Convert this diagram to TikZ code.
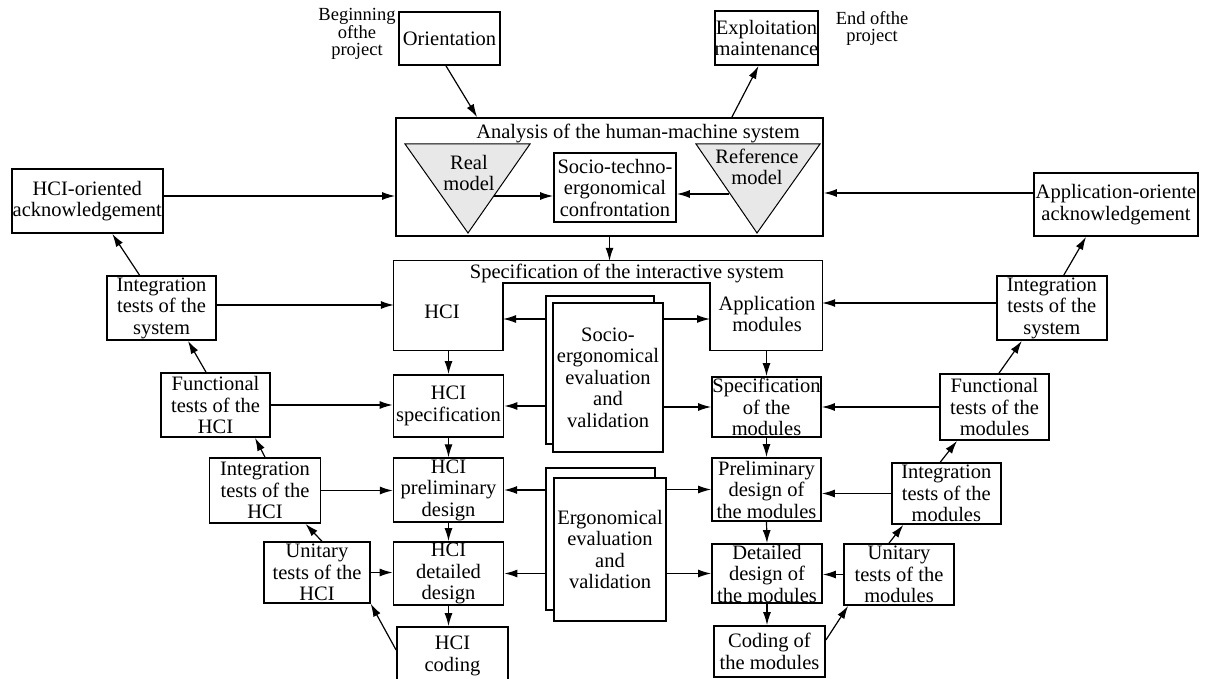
\documentclass[tikz,border=0pt]{standalone}
\usepackage{fontspec}
\setmainfont{Liberation Serif}
\usetikzlibrary{arrows.meta}

\begin{document}
\begin{tikzpicture}[x=1pt, y=-1pt,
		font=\fontsize{20.5}{21.5}\selectfont,
		stagebox/.style={draw, line width=1.8pt, align=center, inner sep=0pt},
		thinbox/.style={stagebox, line width=1.3pt},
		sheet/.style={stagebox, fill=white},
		txt/.style={align=center, inner sep=0pt},
		note/.style={txt, font=\fontsize{18.5}{17}\selectfont},
		arr/.style={line width=1.2pt, -{Latex[length=13pt,width=8pt]}}]
		%%%%% START %%%%%
		\clip (0,0) rectangle (1210,679);
		
		% top of the cycle
		\node[note] (begintxt) at (357,34) {Beginning\\ofthe\\project};
		\node[stagebox, minimum width=101pt, minimum height=53pt] (orient) at (449.5,38.5) {Orientation};
		\node[stagebox, minimum width=101pt, minimum height=54pt] (exploit) at (766.5,38) {Exploitation\\maintenance};
		\node[note] (endtxt) at (872,28) {End ofthe\\project};
		
		\node[stagebox, minimum width=427pt, minimum height=118pt] (analysis) at (609.5,177) {};
		\node[txt] (analysistitle) at (638,133) {Analysis of the human-machine system};
		\draw[fill=black!9, line width=1pt] (405,144) -- (530,144) -- (468,233) -- cycle;
		\draw[fill=black!9, line width=1pt] (696,144) -- (820,144) -- (757,233) -- cycle;
		\node[txt] (realtxt) at (469,173) {Real\\model};
		\node[txt] (reftxt) at (757,167) {Reference\\model};
		\node[stagebox, minimum width=122pt, minimum height=69pt] (confront) at (615,187.5) {Socio-techno-\\ergonomical\\confrontation};
		\coordinate (realout) at (494,196);
		\coordinate (refout) at (729,194);
		
		\node[stagebox, minimum width=151pt, minimum height=64pt] (hciack) at (87.3,201) {HCI-oriented\\acknowledgement};
		\node[stagebox, minimum width=164pt, minimum height=63pt] (appack) at (1116,204.5) {Application-oriente\\acknowledgement};
		
		% specification of the interactive system
		\node[inner sep=0pt, minimum width=428pt, minimum height=89pt] (specsys) at (608,305.5) {};
		\coordinate (notchL) at (503,283);
		\coordinate (notchR) at (710,283);
		\coordinate (hciin) at (503,319);
		\coordinate (appin) at (710,319);
		\draw[line width=1.2pt] (specsys.north west) -- (specsys.north east) -- (specsys.south east) -- (notchR |- specsys.south) -- (notchR) -- (notchL) -- (notchL |- specsys.south) -- (specsys.south west) -- cycle;
		\node[txt] (specsystitle) at (627,273) {Specification of the interactive system};
		\node[txt] (hcitxt) at (442,312) {HCI};
		\node[txt] (apptxt) at (767,314) {Application\\modules};
		
		\node[stagebox, minimum width=108pt, minimum height=148pt] (sociob) at (600,370) {};
		\node[sheet, minimum width=110pt, minimum height=149pt] (socio) at (608,377.5) {Socio-\\ergonomical\\evaluation\\and\\validation};
		\node[stagebox, minimum width=109pt, minimum height=142pt] (ergob) at (600.5,539) {};
		\node[sheet, minimum width=112pt, minimum height=143pt] (ergo) at (610,549.5) {Ergonomical\\evaluation\\and\\validation};
		
		% left branch
		\node[stagebox, minimum width=109pt, minimum height=64pt] (intsysL) at (161.5,308) {Integration\\tests of the\\system};
		\node[stagebox, minimum width=109pt, minimum height=64pt] (funchci) at (215.5,405) {Functional\\tests of the\\HCI};
		\node[stagebox, minimum width=111pt, minimum height=65pt] (inthci) at (265,490.5) {Integration\\tests of the\\HCI};
		\node[thinbox, minimum width=106pt, minimum height=61pt] (unithci) at (317,572.5) {Unitary\\tests of the\\HCI};
		\node[stagebox, minimum width=110pt, minimum height=62pt] (hcispec) at (448.5,406) {HCI\\specification};
		\node[thinbox, minimum width=110pt, minimum height=64pt] (hcipre) at (448.5,490) {HCI\\preliminary\\design};
		\node[stagebox, minimum width=110pt, minimum height=63pt] (hcidet) at (448.5,573.5) {HCI\\detailed\\design};
		\node[stagebox, minimum width=111pt, minimum height=58pt] (hcicode) at (452.5,656) {HCI\\coding};
		
		% right branch
		\node[stagebox, minimum width=110pt, minimum height=64pt] (intsysR) at (1051.8,308) {Integration\\tests of the\\system};
		\node[stagebox, minimum width=109pt, minimum height=66pt] (funcmod) at (994.5,407) {Functional\\tests of the\\modules};
		\node[stagebox, minimum width=109pt, minimum height=61pt] (intmod) at (946.3,493.5) {Integration\\tests of the\\modules};
		\node[stagebox, minimum width=110pt, minimum height=61pt] (unitmod) at (899,574.5) {Unitary\\tests of the\\modules};
		\node[stagebox, minimum width=109pt, minimum height=60pt] (specmod) at (766.5,407) {Specification\\of the\\modules};
		\node[stagebox, minimum width=109pt, minimum height=63pt] (premod) at (766.5,489.5) {Preliminary\\design of\\the modules};
		\node[stagebox, minimum width=110pt, minimum height=59pt] (detmod) at (767,573.5) {Detailed\\design of\\the modules};
		\node[stagebox, minimum width=111pt, minimum height=51pt] (codemod) at (769.5,651.5) {Coding of\\the modules};
		
		% arrows round the analysis
		\draw[arr] ([xshift=-3.5pt]orient.south) -- ([xshift=82pt]analysis.north west);
		\draw[arr] ([xshift=-92pt]analysis.north east) -- ([xshift=-8pt]exploit.south);
		\draw[arr] (realout) -- (realout -| confront.west);
		\draw[arr] (refout) -- (refout -| confront.east);
		\draw[arr] ([yshift=5pt]hciack.east) -- ([yshift=5pt]hciack.east -| analysis.west);
		\draw[arr] ([yshift=11.5pt]appack.west) -- ([yshift=11.5pt]appack.west -| analysis.east);
		\draw[arr] (analysis.south) -- (analysis.south |- specsys.north);
		
		% evaluation arrows
		\draw[arr] (sociob.west |- hciin) -- (hciin);
		\draw[arr] (socio.east |- appin) -- (appin);
		\draw[arr] (sociob.west |- hcispec.east) -- (hcispec.east);
		\draw[arr] (socio.east |- specmod.west) -- (specmod.west);
		\draw[arr] (ergob.west |- hcipre.east) -- (hcipre.east);
		\draw[arr] (ergob.west |- hcidet.east) -- (hcidet.east);
		\draw[arr] (ergo.east |- premod.west) -- (premod.west);
		\draw[arr] (ergo.east |- detmod.west) -- (detmod.west);
		
		% down the V
		\draw[arr] (hcispec.north |- specsys.south) -- (hcispec.north);
		\draw[arr] (hcispec.south) -- (hcipre.north);
		\draw[arr] (hcipre.south) -- (hcidet.north);
		\draw[arr] (hcidet.south) -- (hcidet.south |- hcicode.north);
		\draw[arr] (specmod.north |- specsys.south) -- (specmod.north);
		\draw[arr] (specmod.south) -- (premod.north);
		\draw[arr] (premod.south) -- (detmod.north);
		\draw[arr] (detmod.south) -- (detmod.south |- codemod.north);
		
		% up the V, left
		\draw[arr] ([yshift=6pt]hcicode.west) -- (unithci.south east);
		\draw[arr] ([xshift=5pt]unithci.north) -- ([xshift=40.5pt]inthci.south);
		\draw[arr] (inthci.north) -- ([xshift=39.5pt]funchci.south);
		\draw[arr] ([xshift=-9.5pt]funchci.north) -- ([xshift=26.5pt]intsysL.south);
		\draw[arr] ([xshift=-22pt]intsysL.north) -- ([xshift=25pt]hciack.south);
		\draw[arr] (unithci.east) -- (unithci.east -| hcidet.west);
		\draw[arr] (inthci.east) -- (inthci.east -| hcipre.west);
		\draw[arr] (funchci.east) -- (funchci.east -| hcispec.west);
		\draw[arr] ([yshift=3pt]intsysL.east) -- ([yshift=3pt]intsysL.east -| specsys.west);
		
		% up the V, right
		\draw[arr] ([yshift=11.5pt]codemod.east) -- ([xshift=5pt]unitmod.south west);
		\draw[arr] ([xshift=-10pt]unitmod.north) -- ([xshift=-43pt]intmod.south);
		\draw[arr] ([xshift=-6pt]intmod.north) -- ([xshift=-37.5pt]funcmod.south);
		\draw[arr] ([xshift=4.5pt]funcmod.north) -- ([xshift=-30pt]intsysR.south);
		\draw[arr] ([xshift=12pt]intsysR.north) -- ([xshift=-30pt]appack.south);
		\draw[arr] (unitmod.west) -- (unitmod.west -| detmod.east);
		\draw[arr] (intmod.west) -- (intmod.west -| premod.east);
		\draw[arr] (funcmod.west) -- (funcmod.west -| specmod.east);
		\draw[arr] ([yshift=5pt]intsysR.west) -- ([yshift=5pt]intsysR.west -| specsys.east);
		%%%%% END %%%%%
	\end{tikzpicture}
\end{document}
